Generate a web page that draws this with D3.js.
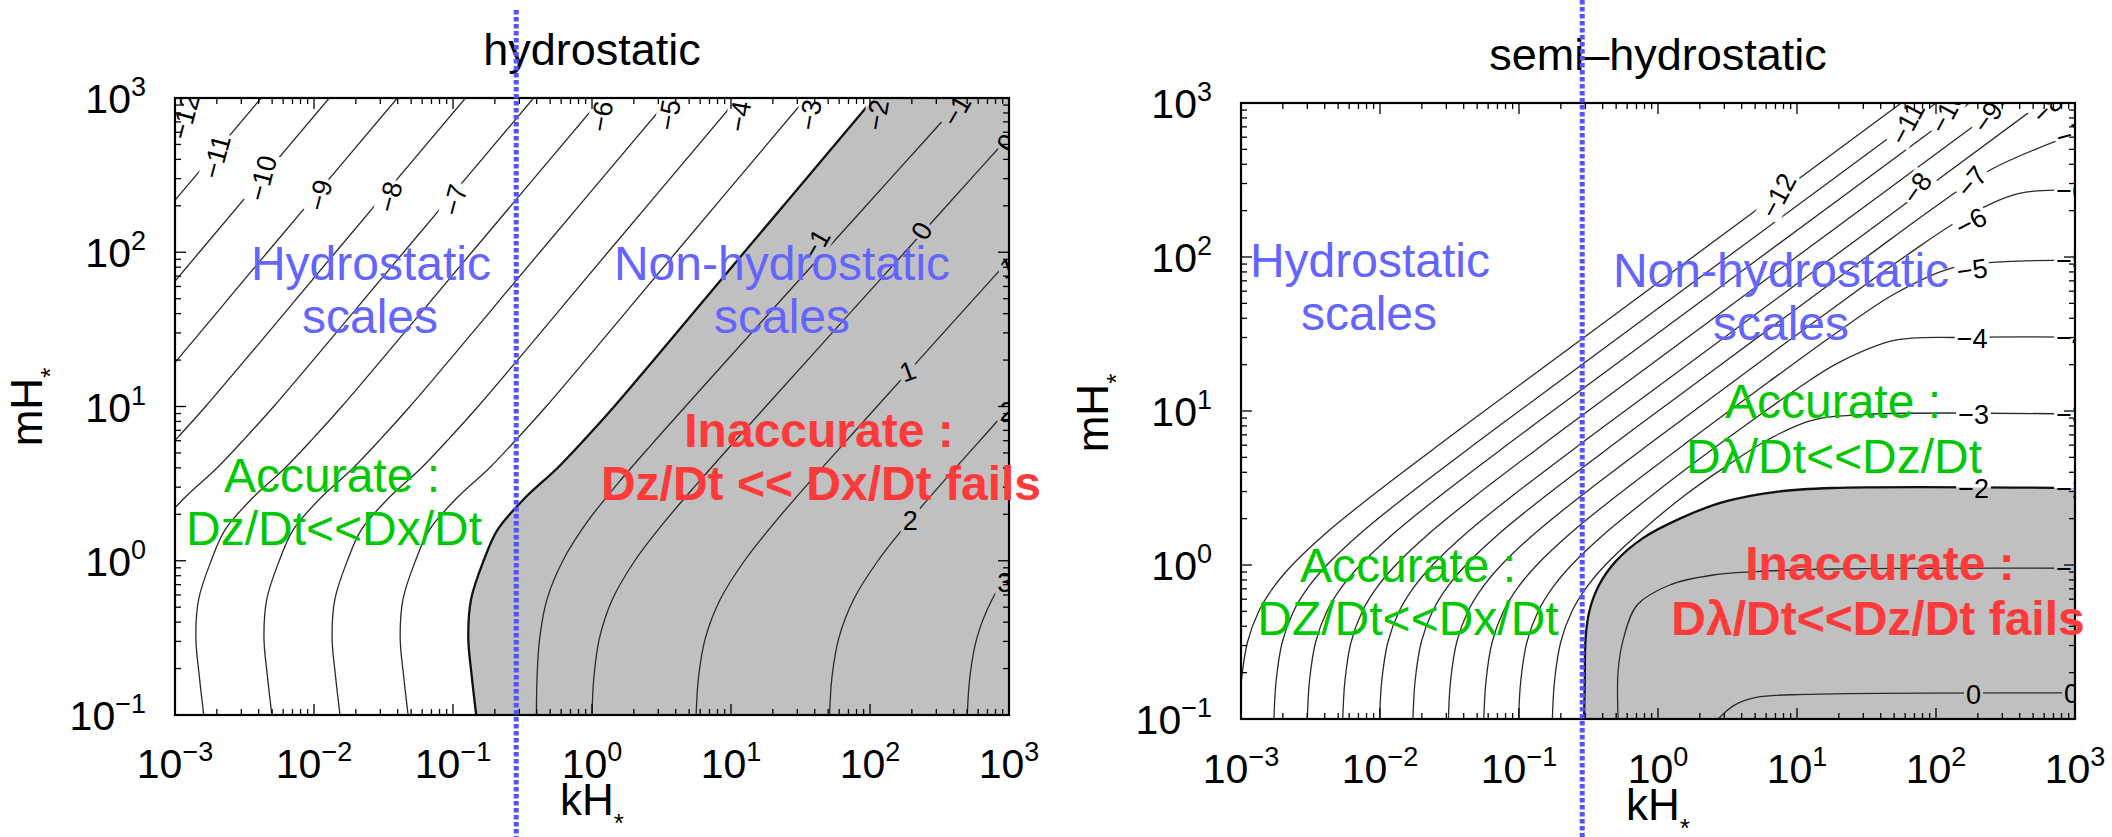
<!DOCTYPE html>
<html><head><meta charset="utf-8">
<script src="https://cdn.jsdelivr.net/npm/d3@7/dist/d3.min.js"></script>
<style>
html,body{margin:0;padding:0;background:#fff;}
svg{display:block;font-family:"Liberation Sans",Arial,Helvetica,sans-serif;}
</style></head><body>
<svg id="chart" width="2112" height="837"></svg>
<script>
// ================= DATA (log10 kH*, log10 mH*) =================
const kDecades = [-3,-2,-1,0,1,2,3];
const mDecades = [-1,0,1,2,3];
const panelTitles = ["hydrostatic","semi\u2013hydrostatic"];
const xAxisTitle = "kH";
const yAxisTitle = "mH";
const dottedLineK = 0.285;

// ---- left panel (hydrostatic) : contour levels <= -2 sampled on common log m rows
const hydroRowsM = [-1,-0.75,-0.5,-0.25,0,0.2,0.4,0.6,0.8,1.0,2.0,3.0];
const hydroLowLevels = [-2,-3,-4,-5,-6,-7,-8,-9,-10,-11,-12];
const hydroLowK = [
  [-0.833,-0.865,-0.89,-0.87,-0.78,-0.68,-0.49,-0.25,-0.04,0.16,1.095,2.03],
  [-1.323,-1.355,-1.38,-1.36,-1.27,-1.17,-0.98,-0.74,-0.53,-0.33,0.605,1.54],
  [-1.813,-1.845,-1.87,-1.85,-1.76,-1.66,-1.47,-1.23,-1.02,-0.82,0.115,1.05],
  [-2.303,-2.335,-2.36,-2.34,-2.25,-2.15,-1.96,-1.72,-1.51,-1.31,-0.375,0.56],
  [-2.793,-2.825,-2.85,-2.83,-2.74,-2.64,-2.45,-2.21,-2.0,-1.8,-0.865,0.07],
  [-3.283,-3.315,-3.34,-3.32,-3.23,-3.13,-2.94,-2.7,-2.49,-2.29,-1.355,-0.42],
  [-3.773,-3.805,-3.83,-3.81,-3.72,-3.62,-3.43,-3.19,-2.98,-2.78,-1.845,-0.91],
  [-4.263,-4.295,-4.32,-4.3,-4.21,-4.11,-3.92,-3.68,-3.47,-3.27,-2.335,-1.4],
  [-4.753,-4.785,-4.81,-4.79,-4.7,-4.6,-4.41,-4.17,-3.96,-3.76,-2.825,-1.89],
  [-5.243,-5.275,-5.3,-5.28,-5.19,-5.09,-4.9,-4.66,-4.45,-4.25,-3.315,-2.38],
  [-5.733,-5.765,-5.79,-5.77,-5.68,-5.58,-5.39,-5.15,-4.94,-4.74,-3.805,-2.87]
];
// ---- left panel : contour levels >= -1 (inside the grey region)
const hydroHighRowsM = [-1,-0.75,-0.5,-0.25,0,0.25,0.5,0.75,1.0,1.5,2.0,2.5,3.0];
const hydroHighLevels = [-1,0,1,2,3];
const hydroHighK = [
  [-0.40,-0.395,-0.376,-0.324,-0.21,-0.036,0.185,0.425,0.672,1.17,1.67,2.17,2.67],
  [0.0,0.014,0.054,0.147,0.308,0.52,0.757,1.002,1.25,1.75,2.25,2.75,3.25],
  [0.749,0.767,0.816,0.923,1.097,1.316,1.555,1.802,2.05,2.55,3.05,3.55,4.05],
  [1.709,1.727,1.776,1.883,2.057,2.276,2.515,2.762,3.01,3.51,4.01,4.51,5.01],
  [2.70,2.719,2.769,2.879,3.055,3.27,3.51,3.76,4.01,4.51,5.01,5.51,6.01]
];
const hydroLabels = [
  ["\u221212",-2.93,2.88],["\u221211",-2.705,2.62],["\u221210",-2.374,2.48],["\u22129",-1.96,2.37],
  ["\u22128",-1.457,2.36],["\u22127",-0.99,2.34],["\u22126",0.065,2.88],["\u22125",0.551,2.89],
  ["\u22124",1.058,2.88],["\u22123",1.565,2.89],["\u22122",2.05,2.89],["\u22121",2.62,2.92],
  ["\u22121",1.607,2.05],["0",2.37,2.14],["0",2.985,2.71],["1",2.27,1.23],["1",2.99,1.9],
  ["2",2.29,0.265],["2",2.985,0.97],["3",2.97,-0.14]
];

// ---- right panel (semi-hydrostatic) contours as [log k, log m] pairs
const semiLevels = [-12,-11,-10,-9,-8,-7,-6,-5,-4,-3,-2,-1,0];
const semiLines = [
  [[-3.013,-1],[-2.997,-0.75],[-2.953,-0.5],[-2.872,-0.3],[-2.771,-0.15],[-2.632,0],[-2.398,0.2],[-2.057,0.45],[-1.546,0.8],[-0.949,1.2],[0.25,2.0],[1.75,3.0]],
  [[-2.763,-1],[-2.747,-0.75],[-2.703,-0.5],[-2.622,-0.3],[-2.521,-0.15],[-2.382,0],[-2.148,0.2],[-1.807,0.45],[-1.296,0.8],[-0.699,1.2],[0.5,2.0],[2.0,3.0]],
  [[-2.523,-1],[-2.507,-0.75],[-2.463,-0.5],[-2.382,-0.3],[-2.281,-0.15],[-2.142,0],[-1.908,0.2],[-1.567,0.45],[-1.056,0.8],[-0.459,1.2],[0.74,2.0],[2.24,3.0]],
  [[-2.268,-1],[-2.252,-0.75],[-2.208,-0.5],[-2.127,-0.3],[-2.026,-0.15],[-1.887,0],[-1.653,0.2],[-1.312,0.45],[-0.801,0.8],[-0.204,1.2],[0.995,2.0],[2.495,3.0]],
  [[-2.003,-1],[-1.987,-0.75],[-1.943,-0.5],[-1.862,-0.3],[-1.761,-0.15],[-1.622,0],[-1.388,0.2],[-1.047,0.45],[-0.536,0.8],[0.061,1.2],[1.26,2.0],[2.76,3.0]],
  [[-1.763,-1],[-1.747,-0.75],[-1.703,-0.5],[-1.622,-0.3],[-1.521,-0.15],[-1.382,0],[-1.148,0.2],[-0.807,0.45],[-0.296,0.8],[0.301,1.2],[1.5,2.0],[2.0,2.33],[2.4,2.57],[3.0,2.8]],
  [[-1.508,-1],[-1.492,-0.75],[-1.448,-0.5],[-1.367,-0.3],[-1.266,-0.15],[-1.127,0],[-0.893,0.2],[-0.552,0.45],[-0.041,0.8],[0.556,1.2],[1.2,1.628],[1.8,2.018],[2.2,2.255],[2.6,2.413],[3.0,2.434]],
  [[-1.253,-1],[-1.237,-0.75],[-1.193,-0.5],[-1.112,-0.3],[-1.011,-0.15],[-0.872,0],[-0.638,0.2],[-0.297,0.45],[0.214,0.8],[0.8,1.191],[1.3,1.518],[1.7,1.76],[2.1,1.925],[2.5,1.97],[3.0,1.977]],
  [[-1.003,-1],[-0.987,-0.75],[-0.943,-0.5],[-0.862,-0.3],[-0.761,-0.15],[-0.622,0],[-0.388,0.2],[-0.047,0.45],[0.3,0.69],[0.7,0.953],[1.0,1.143],[1.3,1.314],[1.7,1.458],[2.2,1.478],[3.0,1.48]],
  [[-0.76,-1],[-0.744,-0.75],[-0.70,-0.5],[-0.619,-0.3],[-0.518,-0.15],[-0.379,0],[-0.145,0.2],[0.196,0.455],[0.5,0.647],[0.8,0.818],[1.1,0.938],[1.5,0.978],[3.0,0.98]],
  [[-0.532,-1.0],[-0.527,-0.75],[-0.521,-0.476],[-0.494,-0.3],[-0.424,-0.13],[-0.306,0.022],[-0.111,0.173],[0.161,0.303],[0.473,0.41],[0.863,0.477],[1.253,0.5],[3.0,0.5]],
  [[-0.287,-1.0],[-0.287,-0.69],[-0.248,-0.476],[-0.15,-0.26],[0.084,-0.13],[0.396,-0.065],[0.707,-0.043],[1.253,-0.026],[3.0,-0.021]],
  [[0.433,-1.0],[0.55,-0.91],[0.706,-0.86],[1.057,-0.84],[3.0,-0.83]]
];
const semiLabels = [
  ["\u221212",0.863,2.40],["\u221211",1.79,2.87],["\u221210",2.08,2.95],["\u22129",2.37,2.91],
  ["\u22128",2.80,2.97],["\u22128",1.86,2.45],["\u22127",2.255,2.49],["\u22126",2.25,2.23],
  ["\u22125",2.26,1.92],["\u22124",2.26,1.47],["\u22123",2.27,0.98],["\u22122",2.27,0.50],
  ["0",2.27,-0.84],["\u22127",2.975,2.80],["\u22126",2.975,2.435],["\u22125",2.975,1.977],
  ["\u22124",2.975,1.48],["\u22123",2.975,0.98],["\u22122",2.975,0.5],["\u22121",2.975,-0.02],["0",2.975,-0.83]
];

// ================= STYLE / LAYOUT =================
const hydroLabelAngles = [-75,-75,-75,-75,-75,-75,-80,-80,-80,-80,-80,-60,-60,-60,-60,-20,-20,0,0,0];
const semiLabelAngles = [-62,-62,-62,-55,-45,-55,-50,-28,-8,0,0,0,0,-15,0,0,0,0,0,0,0];
const BLUE = "#5454ff", GREEN = "#00c800", RED = "#ff3a3a", SHADE = "#c0c0c0";
const layout = [
  {x0:175, x1:1009, y0:98, y1:715, titleY:65, xlabY:778, xtitY:815, ytitX:42, ytitY:407, dotTop:10,
   notes:[
    {t:"Hydrostatic",x:371,y:280,c:"#6464ff"},{t:"scales",x:370,y:333,c:"#6464ff"},
    {t:"Non-hydrostatic",x:782,y:280,c:"#6464ff"},{t:"scales",x:782,y:333,c:"#6464ff"},
    {t:"Accurate :",x:332,y:492,c:GREEN},{t:"Dz/Dt<<Dx/Dt",x:334,y:545,c:GREEN},
    {t:"Inaccurate :",x:819,y:447,c:RED,b:1},{t:"Dz/Dt << Dx/Dt fails",x:821,y:500,c:RED,b:1}]},
  {x0:1241, x1:2075, y0:103, y1:719, titleY:70, xlabY:783, xtitY:820, ytitX:1108, ytitY:413, dotTop:0,
   notes:[
    {t:"Hydrostatic",x:1370,y:277,c:"#6464ff"},{t:"scales",x:1369,y:330,c:"#6464ff"},
    {t:"Non-hydrostatic",x:1781,y:287,c:"#6464ff"},{t:"scales",x:1781,y:340,c:"#6464ff"},
    {t:"Accurate :",x:1833,y:418,c:GREEN},{t:"D\u03bb/Dt<<Dz/Dt",x:1834,y:473,c:GREEN},
    {t:"Accurate :",x:1408,y:582,c:GREEN},{t:"DZ/Dt<<Dx/Dt",x:1408,y:635,c:GREEN},
    {t:"Inaccurate :",x:1880,y:580,c:RED,b:1},{t:"D\u03bb/Dt<<Dz/Dt fails",x:1878,y:635,c:RED,b:1}]}
];

// ================= DRAW =================
const svg = d3.select("#chart");
const defs = svg.append("defs");
const P = v => Math.pow(10, v);
const curve = d3.curveCatmullRom.alpha(0.5);

function drawPanel(idx, L, lines, labels, angles, shadeFn) {
  const x = d3.scaleLog().domain([1e-3,1e3]).range([L.x0, L.x1]);
  const y = d3.scaleLog().domain([1e-1,1e3]).range([L.y1, L.y0]);
  const px = d => [x(P(d[0])), y(P(d[1]))];
  const line = d3.line().curve(curve);

  defs.append("clipPath").attr("id","clip"+idx).append("rect")
    .attr("x",L.x0).attr("y",L.y0).attr("width",L.x1-L.x0).attr("height",L.y1-L.y0);
  const mask = defs.append("mask").attr("id","mask"+idx).attr("maskUnits","userSpaceOnUse")
    .attr("x",0).attr("y",0).attr("width",2112).attr("height",837);
  mask.append("rect").attr("x",0).attr("y",0).attr("width",2112).attr("height",837).attr("fill","#fff");

  const plot = svg.append("g").attr("clip-path",`url(#clip${idx})`);
  plot.append("path").attr("d", shadeFn(line, px, x, y)).attr("fill", SHADE).attr("stroke","none");
  const lg = plot.append("g").attr("mask",`url(#mask${idx})`);
  lines.forEach(l => {
    lg.append("path").attr("d", line(l.pts.map(px))).attr("fill","none")
      .attr("stroke", l.level === -2 ? "#111" : "#2a2a2a")
      .attr("stroke-width", l.level === -2 ? 2.3 : 1.3);
  });
  const labG = plot.append("g").attr("font-size",27).attr("fill","#000");
  labels.forEach((lb, i) => {
    const [cx, cy] = px([lb[1], lb[2]]);
    const tr = `translate(${cx},${cy}) rotate(${angles[i]})`;
    const t = labG.append("text").attr("transform", tr).attr("text-anchor","middle")
      .attr("dy","0.36em").text(lb[0]);
    const bb = t.node().getBBox();
    mask.append("rect").attr("transform", tr).attr("x",bb.x-2).attr("y",bb.y+2)
      .attr("width",bb.width+4).attr("height",bb.height-4).attr("fill","#000");
  });

  svg.append("rect").attr("x",L.x0).attr("y",L.y0).attr("width",L.x1-L.x0).attr("height",L.y1-L.y0)
    .attr("fill","none").attr("stroke","#000").attr("stroke-width",2.2);
  const tg = svg.append("g").attr("stroke","#000").attr("stroke-width",1.3);
  kDecades.forEach(e => {
    const vals = [P(e)];
    if (e < 3) for (let j=2;j<=9;j++) vals.push(j*P(e));
    vals.forEach((v,j) => {
      const len = j===0 ? 11 : 6, xx = x(v);
      tg.append("line").attr("x1",xx).attr("x2",xx).attr("y1",L.y1).attr("y2",L.y1-len);
      tg.append("line").attr("x1",xx).attr("x2",xx).attr("y1",L.y0).attr("y2",L.y0+len);
    });
  });
  mDecades.forEach(e => {
    const vals = [P(e)];
    if (e < 3) for (let j=2;j<=9;j++) vals.push(j*P(e));
    vals.forEach((v,j) => {
      const len = j===0 ? 11 : 6, yy = y(v);
      tg.append("line").attr("y1",yy).attr("y2",yy).attr("x1",L.x0).attr("x2",L.x0+len);
      tg.append("line").attr("y1",yy).attr("y2",yy).attr("x1",L.x1).attr("x2",L.x1-len);
    });
  });
  const pow = (sel, e) => {
    sel.append("tspan").text("10");
    sel.append("tspan").attr("dy",-17).attr("font-size",27).text(e<0 ? "\u2212"+(-e) : String(e));
  };
  kDecades.forEach(e => {
    const t = svg.append("text").attr("x", x(P(e))).attr("y", L.xlabY).attr("text-anchor","middle")
      .attr("font-size",41).attr("fill","#000");
    pow(t, e);
  });
  mDecades.forEach(e => {
    const t = svg.append("text").attr("x", L.x0-29).attr("y", y(P(e))+15).attr("text-anchor","end")
      .attr("font-size",41).attr("fill","#000");
    pow(t, e);
  });
  const xt = svg.append("text").attr("x",(L.x0+L.x1)/2).attr("y",L.xtitY).attr("text-anchor","middle")
    .attr("font-size",44).attr("fill","#000");
  xt.append("tspan").text(xAxisTitle);
  xt.append("tspan").attr("dy",17).attr("font-size",26).text("*");
  const yt = svg.append("text").attr("transform",`translate(${L.ytitX},${L.ytitY}) rotate(-90)`)
    .attr("text-anchor","middle").attr("font-size",44).attr("fill","#000");
  yt.append("tspan").text(yAxisTitle);
  yt.append("tspan").attr("dy",17).attr("font-size",26).text("*");
  svg.append("text").attr("x",(L.x0+L.x1)/2).attr("y",L.titleY).attr("text-anchor","middle")
    .attr("font-size",45).attr("fill","#000").text(panelTitles[idx]);
  L.notes.forEach(n => {
    svg.append("text").attr("x",n.x).attr("y",n.y).attr("text-anchor","middle")
      .attr("font-size",48).attr("font-weight", n.b ? "bold" : "normal").attr("fill",n.c).text(n.t);
  });
  const dx = x(dottedLineK);
  svg.append("line").attr("x1",dx).attr("x2",dx).attr("y1",L.dotTop).attr("y2",837)
    .attr("stroke",BLUE).attr("stroke-width",5).attr("stroke-dasharray","4.5,2.5");
}

const hydroLines = [];
hydroLowLevels.forEach((lev,i) => hydroLines.push({level:lev, pts: hydroLowK[i].map((k,j)=>[k, hydroRowsM[j]])}));
hydroHighLevels.forEach((lev,i) => hydroLines.push({level:lev, pts: hydroHighK[i].map((k,j)=>[k, hydroHighRowsM[j]])}));
const hydroBoundaryPts = hydroLines[0].pts;

drawPanel(0, layout[0], hydroLines, hydroLabels, hydroLabelAngles, (line, px, x, y) => {
  return line(hydroBoundaryPts.map(px)) + `L${x(1e3)+20},${y(1e3)-20}L${x(1e3)+20},${y(0.1)+20}L${px(hydroBoundaryPts[0])[0]},${y(0.1)+20}Z`;
});

const semiLineObjs = semiLevels.map((lev,i) => ({level:lev, pts: semiLines[i]}));
const semiBoundaryPts = semiLines[semiLevels.indexOf(-2)];
drawPanel(1, layout[1], semiLineObjs, semiLabels, semiLabelAngles, (line, px, x, y) => {
  return line(semiBoundaryPts.map(px)) + `L${x(1e3)+20},${y(P(0.5))}L${x(1e3)+20},${y(0.1)+20}L${px(semiBoundaryPts[0])[0]},${y(0.1)+20}Z`;
});
</script></body></html>
